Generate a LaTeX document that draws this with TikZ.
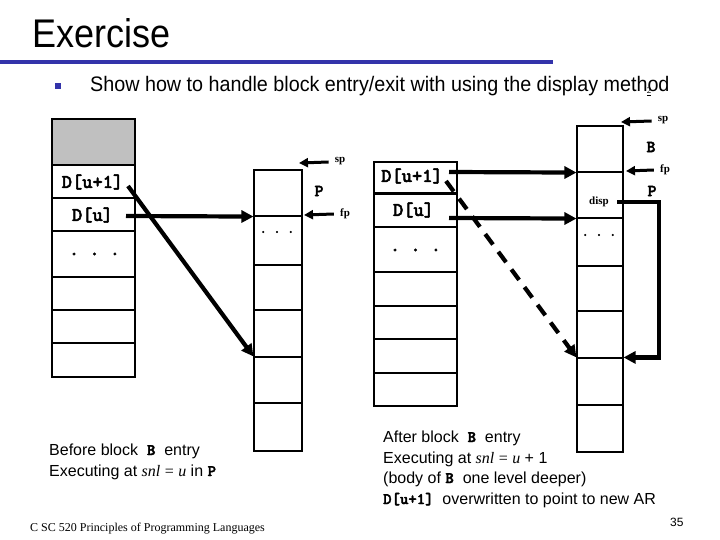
\documentclass[tikz,border=0pt]{standalone}
\usepackage{fontspec}
\setmainfont{Liberation Sans}
\newfontfamily\tms{Liberation Serif}
\newfontfamily\cour{lmmonolt10-bold}[Extension=.otf, FakeBold=2.5]
\usetikzlibrary{arrows.meta}
\definecolor{titleblue}{RGB}{51,51,170}
\definecolor{cellgray}{RGB}{192,192,192}
\newcommand\cbf[1]{{\cour\fontsize{16}{16}\selectfont #1}}
\begin{document}
\begin{tikzpicture}[x=1pt,y=-1pt,
  cell/.style={draw, line width=1.1pt, inner sep=0pt, minimum width=#1},
  cell/.default=83pt,
  thickcell/.style={draw, line width=2pt, inner sep=0pt, minimum width=46pt},
  bigarrow/.style={line width=4.2pt, -{Triangle[length=12pt,width=12pt]}},
  ptrarrow/.style={line width=3pt, -{Triangle[length=9pt,width=9pt]}},
  dtext/.style={font=\cour\fontsize{19.5}{19.5}\selectfont, inner sep=0pt},
  lbl/.style={font=\tms\bfseries\fontsize{11}{11}\selectfont, inner sep=0pt},
  frame/.style={font=\cour\fontsize{17}{17}\selectfont, inner sep=0pt},
  dots/.style={font=\cour\fontsize{18}{18}\selectfont, inner sep=0pt},
  body/.style={font=\fontsize{16}{16}\selectfont, inner sep=0pt, anchor=base west},
]
\useasboundingbox (0,0) rectangle (720,540);

% title
\node[anchor=base west, inner sep=0pt, font=\fontsize{40}{40}\selectfont] (title) at (32,48) {\scalebox{0.9}[1]{Exercise}};
\fill[titleblue] (0,60) rectangle (553,64);
\node[fill=titleblue, minimum size=6pt, inner sep=0pt] (bul) at (58,86) {};
\node[anchor=base west, inner sep=0pt, font=\fontsize{21}{21}\selectfont] (sub) at (90,92) {\scalebox{0.94}[1]{Show how to handle block entry/exit with using the display method}};
\node[inner sep=0pt, font=\tms\fontsize{9}{9}\selectfont] (glyph) at (649,92) {\underline{2}};

% stack 1 (before, display)
\node[cell, fill=cellgray, minimum height=46pt] (g1) at (93.5,142) {};
\node[cell, minimum height=33pt] (a1) at (93.5,181.5) {};
\node[cell, minimum height=33pt] (a2) at (93.5,214.5) {};
\node[cell, minimum height=46pt] (a3) at (93.5,254) {};
\node[cell, minimum height=33pt] (a4) at (93.5,293.5) {};
\node[cell, minimum height=33pt] (a5) at (93.5,326.5) {};
\node[cell, minimum height=34pt] (a6) at (93.5,360) {};
\node[dtext] (t1) at (92.5,182) {D[u+1]};
\node[dtext] (t2) at (92.5,215) {D[u]};
\node[dots] (dt1) at (94.5,254) {.\hspace{11pt}.\hspace{11pt}.};

% stack 2 (before, runtime stack)
\node[cell=48pt, minimum height=46pt] (b1) at (278,193) {};
\node[cell=48pt, minimum height=49pt] (b2) at (278,240.5) {};
\node[cell=48pt, minimum height=45pt] (b3) at (278,287.5) {};
\node[cell=48pt, minimum height=47pt] (b4) at (278,333.5) {};
\node[cell=48pt, minimum height=46pt] (b5) at (278,380) {};
\node[thickcell, minimum width=48pt, minimum height=48pt] (b6) at (278,427) {};
\node[dots, font=\cour\fontsize{13}{13}\selectfont] (dt2) at (277,232) {.\hspace{7pt}.\hspace{7pt}.};
\node[lbl] (sp1) at (340,161) {sp};
\node[frame] (P1) at (319,191) {P};
\node[lbl] (fp1) at (345,214) {fp};
\coordinate (sp1tip) at (299,163);
\coordinate (fp1tip) at (304,215);
\draw[ptrarrow] ([xshift=-6pt,yshift=-1pt]sp1.west) -- (sp1tip);
\draw[ptrarrow] ([xshift=-6pt]fp1.west) -- (fp1tip);

\coordinate (t2out) at (126,216);
\coordinate (t1out) at (128,186);
\draw[bigarrow] (t2out) -- (b1.south west);
\draw[bigarrow] (t1out) -- (b5.north west);

% stack 3 (after, display)
\node[cell, minimum height=31pt] (c0) at (415.5,177.5) {};
\node[cell, minimum height=33pt] (c1) at (415.5,210.5) {};
\node[cell, minimum height=45pt] (c2) at (415.5,249.5) {};
\node[cell, minimum height=34pt] (c3) at (415.5,289) {};
\node[cell, minimum height=33pt] (c4) at (415.5,322.5) {};
\node[cell, minimum height=34pt] (c5) at (415.5,356) {};
\node[cell, minimum height=33pt] (c6) at (415.5,389.5) {};
\node[dtext] (s1) at (412,176) {D[u+1]};
\node[dtext] (s2) at (413.5,210) {D[u]};
\node[dots] (dt3) at (415.5,250) {.\hspace{11pt}.\hspace{11pt}.};

% stack 4 (after, runtime stack)
\node[cell=46pt, minimum height=46pt] (d1) at (600,149) {};
\node[cell=46pt, minimum height=46pt] (d2) at (600,195) {};
\node[cell=46pt, minimum height=48pt] (d3) at (600,242) {};
\node[cell=46pt, minimum height=45pt] (d4) at (600,288.5) {};
\node[cell=46pt, minimum height=47pt] (d5) at (600,334.5) {};
\node[cell=46pt, minimum height=47pt] (d6) at (600,381.5) {};
\node[cell=46pt, minimum height=47pt] (d7) at (600,428.5) {};
\node[lbl] (disp) at (599,202) {disp};
\node[dots, font=\cour\fontsize{13}{13}\selectfont] (dt4) at (599,235) {.\hspace{7pt}.\hspace{7pt}.};
\node[lbl] (sp2) at (663,120) {sp};
\node[frame] (B2) at (651,147) {B};
\node[lbl] (fp2) at (665,170) {fp};
\node[frame] (P2) at (652,191) {P};
\coordinate (sp2tip) at (621,122);
\coordinate (fp2tip) at (626,171);
\draw[ptrarrow] ([xshift=-6pt,yshift=-1pt]sp2.west) -- (sp2tip);
\draw[ptrarrow] ([xshift=-6pt]fp2.west) -- (fp2tip);

\coordinate (s1out) at (449,172);
\coordinate (s2out) at (449,218);
\coordinate (s1dash) at (446,181);
\draw[bigarrow] (s1out) -- (d1.south west);
\draw[bigarrow] (s2out) -- (d2.south west);
\draw[bigarrow, dash pattern=on 13pt off 9pt] (s1dash) -- (d6.north west);
\coordinate (dispout) at (617,202);
\coordinate (dispcorner) at (659,202);
\draw[bigarrow] (dispout) -- (dispcorner) |- (d6.north east);

% captions
\node[body] (cap1) at (49,455) {Before block\ \ \cbf{B}\ \ entry};
\node[body] (cap2) at (49,476) {Executing at {\tms\itshape snl} {\tms =} {\tms\itshape u} in \cbf{P}};
\node[body] (cap3) at (383,442) {After block\ \ \cbf{B}\ \ entry};
\node[body] (cap4) at (383,463) {Executing at {\tms\itshape snl} {\tms =} {\tms\itshape u} + 1};
\node[body] (cap5) at (383,483) {(body of \cbf{B}\ \ one level deeper)};
\node[body] (cap6) at (383,504) {\cbf{D[u+1]}\ \ overwritten to point to new AR};

\node[anchor=base west, inner sep=0pt, font=\tms\fontsize{12}{12}\selectfont] (foot) at (30,531) {C SC 520 Principles of Programming Languages};
\node[anchor=base west, inner sep=0pt, font=\fontsize{12}{12}\selectfont] (pg) at (670,526) {35};
\end{tikzpicture}
\end{document}
